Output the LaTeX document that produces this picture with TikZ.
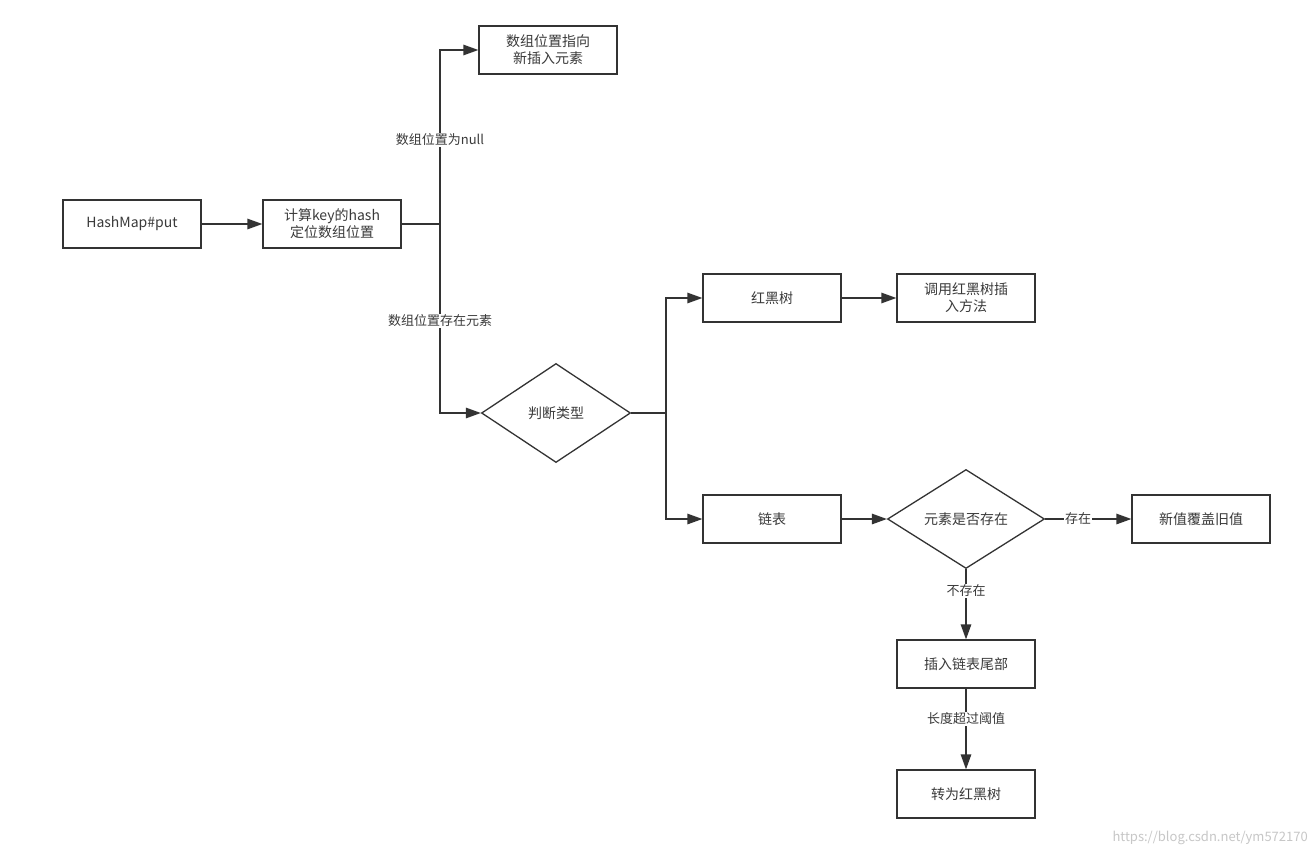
\documentclass[tikz,border=0pt]{standalone}
\usepackage{fontspec}
\setmainfont{Noto Sans CJK SC}
\usetikzlibrary{arrows.meta,shapes.geometric}
\definecolor{ln}{HTML}{333333}
\definecolor{tx}{HTML}{3a3a3a}
\begin{document}
\begin{tikzpicture}[x=1pt,y=-1pt,
  box/.style={draw=ln,line width=1.3pt,fill=white,minimum width=138pt,minimum height=48pt,inner sep=0pt,align=center,text=tx,font=\fontsize{14}{17}\selectfont},
  dia/.style={draw=ln,line width=1.3pt,fill=white,shape=diamond,inner sep=0pt,text=tx,font=\fontsize{14}{17}\selectfont},
  conn/.style={draw=ln,line width=1.3pt},
  arr/.style={conn,-{Triangle[length=15pt,width=10.5pt]}},
  lbl/.style={fill=white,text=tx,inner sep=1pt,font=\fontsize{13}{15}\selectfont}]
\useasboundingbox (0,0) rectangle (1312,857);
\fill[white] (0,0) rectangle (1312,857);
% nodes
\node[box] (put) at (132,224) {HashMap\#put};
\node[box] (hash) at (332,224) {计算key的hash\\定位数组位置};
\node[box] (top) at (548,50) {数组位置指向\\新插入元素};
\node[dia,minimum width=149pt,minimum height=99pt] (judge) at (556,413) {判断类型};
\node[box] (rbt) at (772,298) {红黑树};
\node[box] (call) at (966,298) {调用红黑树插\\入方法};
\node[box] (list) at (772,519) {链表};
\node[dia,minimum width=157pt,minimum height=99pt] (ex) at (966,519) {元素是否存在};
\node[box] (new) at (1201,519) {新值覆盖旧值};
\node[box] (tail) at (966,664) {插入链表尾部};
\node[box] (conv) at (966,794) {转为红黑树};
\coordinate (j1) at (440,224);
\coordinate (j2) at (666,413);
% connectors
\draw[arr] (put) -- (hash);
\draw[conn] (hash.east) -- (j1);
\draw[arr] (j1) |- (top.west);
\draw[arr] (j1) |- (judge.west);
\draw[conn] (judge.east) -- (j2);
\draw[arr] (j2) |- (rbt.west);
\draw[arr] (j2) |- (list.west);
\draw[arr] (rbt) -- (call);
\draw[arr] (list) -- (ex);
\draw[arr] (ex) -- (new);
\draw[arr] (ex) -- (tail);
\draw[arr] (tail) -- (conv);
% labels
\node[lbl] (l1) at (440,140) {数组位置为null};
\node[lbl] (l2) at (440,321) {数组位置存在元素};
\node[lbl] (l3) at (1078,519) {存在};
\node[lbl] (l4) at (966,591) {不存在};
\node[lbl] (l5) at (966,719) {长度超过阈值};
\node[text=black!22,font=\fontsize{13}{15}\selectfont,anchor=east,inner sep=0pt] (wm) at (1308,838) {https://blog.csdn.net/ym572170};
\end{tikzpicture}
\end{document}
